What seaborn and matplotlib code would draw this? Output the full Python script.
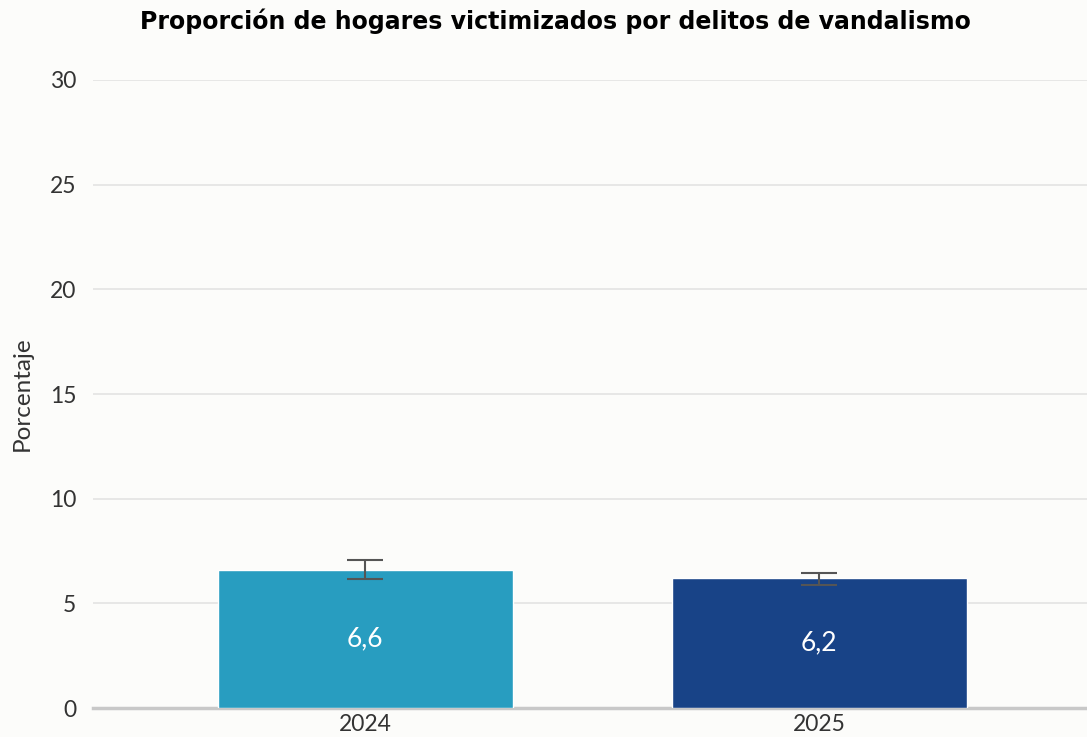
import numpy as np
import pandas as pd
import matplotlib
matplotlib.use("Agg")
import matplotlib.pyplot as plt
import seaborn as sns

# DATA ---------
years = ["2024", "2025"]
valores = [6.6, 6.2]
ic_inf = [6.15, 5.88]
ic_sup = [7.05, 6.45]
etiquetas = ["6,6", "6,2"]
colores = ["#289dc0", "#184387"]

df = pd.DataFrame({"anio": years, "pct": valores})

# PLOT ---------
sns.set_theme(style="white")
plt.rcParams["font.family"] = ["Lato", "DejaVu Sans"]

fondo = "#fcfcfa"
fig = plt.figure(figsize=(10.87, 7.37), dpi=100, facecolor=fondo)
ax = fig.add_axes([0.0856, 0.0393, 0.9144, 0.8522])
ax.set_facecolor(fondo)

sns.barplot(data=df, x="anio", y="pct", hue="anio", palette=colores,
            width=0.65, legend=False, ax=ax, zorder=3, saturation=1)

# error bars from given intervals
pos = np.arange(len(years))
err = [np.array(valores) - np.array(ic_inf), np.array(ic_sup) - np.array(valores)]
ax.errorbar(pos, valores, yerr=err, fmt="none", ecolor="#555555",
            elinewidth=1.5, capsize=13, capthick=1.5, zorder=4)

for i, (v, t) in enumerate(zip(valores, etiquetas)):
    ax.text(i, v / 2, t, ha="center", va="center", color="white",
            fontsize=19, zorder=5)

ax.set_ylim(0, 30)
ax.set_xlim(-0.6, 1.59)
ax.set_yticks([0, 5, 10, 15, 20, 25, 30])
ax.yaxis.grid(True, color="#e3e3e3", linewidth=1.2, zorder=0)
ax.set_axisbelow(True)
for s in ["top", "right", "left"]:
    ax.spines[s].set_visible(False)
ax.spines["bottom"].set_color("#c8c8c8")
ax.spines["bottom"].set_linewidth(2.5)
ax.tick_params(axis="both", length=0, labelsize=16.5, labelcolor="#333333", pad=4)
ax.tick_params(axis="y", pad=12)
ax.set_xlabel("")
ax.set_ylabel("Porcentaje", fontsize=17.5, color="#333333", labelpad=12)

fig.suptitle("Proporción de hogares victimizados por delitos de vandalismo",
             x=0.511, y=0.988, fontsize=17, fontweight="bold", color="black",
             family="DejaVu Sans")

fig.savefig("out.png", dpi=100, facecolor=fondo)
